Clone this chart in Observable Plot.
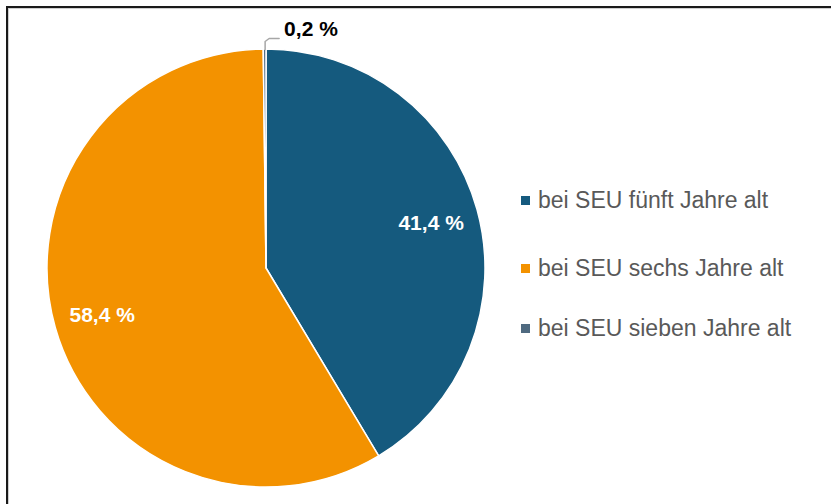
<!DOCTYPE html>
<html>
<head>
<meta charset="utf-8">
<script src="https://cdn.jsdelivr.net/npm/d3@7"></script>
<script src="https://cdn.jsdelivr.net/npm/@observablehq/plot@0.6"></script>
<style>
  html, body { margin: 0; padding: 0; background: #fff; }
  #wrap { position: relative; width: 831px; height: 504px; overflow: hidden; font-family: "Liberation Sans", Arial, sans-serif; }
  #frame { position: absolute; left: 6px; top: 6px; right: -10px; bottom: -10px; border-left: 2px solid #1a1a1a; border-top: 2px solid #1a1a1a; box-shadow: inset 1px 1px 0 #cfcfcf; }
  #chart { position: absolute; left: 0; top: 0; }
  .item { position: absolute; left: 521px; display: flex; align-items: center; height: 28px; color: #595959; font-size: 23px; white-space: nowrap; }
  .sw { width: 9px; height: 9px; margin-right: 8px; flex: none; }
</style>
</head>
<body>
<div id="wrap"><div id="frame"></div><div id="chart"></div><div id="legend"></div></div>
<script>
const categories = ["bei SEU fünft Jahre alt", "bei SEU sechs Jahre alt", "bei SEU sieben Jahre alt"];
const values = [41.4, 58.4, 0.2];
const valueLabels = ["41,4 %", "58,4 %", "0,2 %"];
const colors = ["#155a7e", "#f39200", "#4f6a80"];

const W = 831, H = 504;
const cx = 266, cy = 268, R = 219;
const legendRowCenters = [200, 268.5, 328.5];

const arcs = d3.pie().sort(null).value(d => d)(values);
const mid = arcs.map(a => (a.startAngle + a.endAngle) / 2);

// inside labels for the large slices
const inside = [0, 1].map(i => ({
  x: 0.78 * Math.sin(mid[i]),
  y: 0.78 * Math.cos(mid[i]),
  label: valueLabels[i]
}));

// leader for the small slice
const ax = Math.sin(mid[2]), ay = Math.cos(mid[2]);
const leader = [
  {x: ax, y: ay},
  {x: ax, y: ay + 8 / R},
  {x: ax + 4 / R, y: ay + 11 / R},
  {x: ax + 14 / R, y: ay + 11 / R}
];
const outside = [{x: ax + 19 / R, y: ay + 20 / R, label: valueLabels[2]}];

function pieMark(index, scales) {
  const x0 = scales.x(0), y0 = scales.y(0), r = scales.x(1) - scales.x(0);
  const g = d3.create("svg:g").attr("transform", `translate(${x0},${y0})`);
  const arc = d3.arc().innerRadius(0).outerRadius(r);
  g.selectAll("path").data(arcs).join("path")
    .attr("d", arc)
    .attr("fill", d => colors[d.index])
    .attr("stroke", "#fff")
    .attr("stroke-width", 1.5)
    .attr("stroke-linejoin", "round");
  return g.node();
}

const plot = Plot.plot({
  width: W,
  height: H,
  margin: 0,
  style: {background: "transparent", fontFamily: "'Liberation Sans', Arial, sans-serif"},
  x: {domain: [-cx / R, (W - cx) / R], range: [0, W], axis: null},
  y: {domain: [-(H - cy) / R, cy / R], range: [H, 0], axis: null},
  marks: [
    pieMark,
    Plot.line(leader, {x: "x", y: "y", stroke: "#a6a6a6", strokeWidth: 1.5}),
    Plot.text(inside, {x: "x", y: "y", text: "label", fill: "#fff", fontSize: 21, fontWeight: "bold"}),
    Plot.text(outside, {x: "x", y: "y", text: "label", fill: "#000", fontSize: 21, fontWeight: "bold", textAnchor: "start"})
  ]
});
document.getElementById("chart").appendChild(plot);

const legend = document.getElementById("legend");
categories.forEach((c, i) => {
  const item = document.createElement("div");
  item.className = "item";
  item.style.top = (legendRowCenters[i] - 14) + "px";
  const sw = document.createElement("span");
  sw.className = "sw";
  sw.style.background = colors[i];
  const t = document.createElement("span");
  t.textContent = c;
  item.appendChild(sw);
  item.appendChild(t);
  legend.appendChild(item);
});
</script>
</body>
</html>
